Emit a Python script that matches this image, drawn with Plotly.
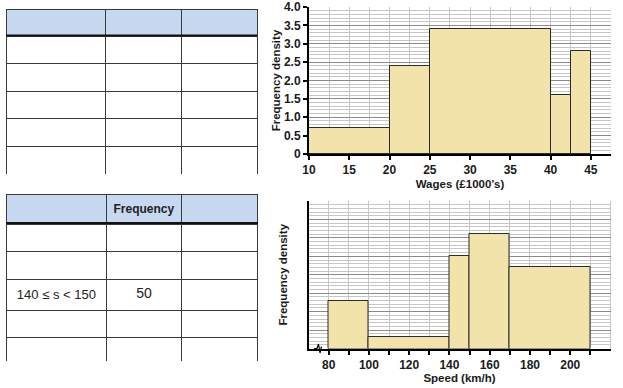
import plotly.graph_objects as go

# ---------------- data ----------------
wage_edges = [10, 20, 25, 40, 42.5, 45]
wage_fd = [0.7, 2.4, 3.4, 1.6, 2.8]
wage_ticks = [10, 15, 20, 25, 30, 35, 40, 45]
wage_yticks = [0, 0.5, 1.0, 1.5, 2.0, 2.5, 3.0, 3.5, 4.0]
wage_yticklabels = ["0", "0.5", "1.0", "1.5", "2.0", "2.5", "3.0", "3.5", "4.0"]

speed_edges = [80, 100, 140, 150, 170, 210]
speed_fd = [2.6, 0.6, 5.0, 6.2, 4.4]
speed_ticks = [80, 100, 120, 140, 160, 180, 200]
speed_minor_ticks = [90, 110, 130, 150, 170, 190, 210]

table1_header = ["", "", ""]
table1_col1 = ["", "", "", "", ""]
table1_col2 = ["", "", "", "", ""]
table1_col3 = ["", "", "", "", ""]

table2_header = ["", "<b>Frequency</b>", ""]
table2_col1 = ["", "", "140 \u2264 s < 150", "", ""]
table2_col2 = ["", "", "50", "", ""]
table2_col3 = ["", "", "", "", ""]

W, H = 623, 388
BAR_FILL = "#f1e3aa"
BAR_LINE = "#2b2b2b"
MAJ_GRID = "#8a8a8a"
MIN_GRID = "#c6c6c6"
HEAD_FILL = "#c6d9f1"
FONT = "Liberation Sans, Arial, sans-serif"


def mids_widths(edges):
    mids = [(a + b) / 2 for a, b in zip(edges[:-1], edges[1:])]
    widths = [b - a for a, b in zip(edges[:-1], edges[1:])]
    return mids, widths


def px_x(a, b):
    return [a / W, b / W]


def px_y(top, bottom):
    return [(H - bottom) / H, (H - top) / H]


fig = go.Figure()

# --- tables ---
fig.add_trace(go.Table(
    domain=dict(x=px_x(6, 257), y=px_y(9, 174.5)),
    columnwidth=[99, 76, 76],
    header=dict(values=table1_header, fill_color=HEAD_FILL, height=27,
                line=dict(color="#3a3a3a", width=1),
                font=dict(family=FONT, size=12, color="#222")),
    cells=dict(values=[table1_col1, table1_col2, table1_col3], fill_color="white",
               height=27.6, line=dict(color="#3a3a3a", width=1),
               font=dict(family=FONT, size=14, color="#222")),
))

fig.add_trace(go.Table(
    domain=dict(x=px_x(6.5, 258), y=px_y(194, 361)),
    columnwidth=[100, 75.5, 76],
    header=dict(values=table2_header, fill_color=HEAD_FILL, height=29,
                line=dict(color="#3a3a3a", width=1), align="center",
                font=dict(family=FONT, size=12, color="#222")),
    cells=dict(values=[table2_col1, table2_col2, table2_col3], fill_color="white",
               height=27.5, line=dict(color="#3a3a3a", width=1), align="center",
               font=dict(family=FONT, size=[13, 14, 13], color="#222")),
))

# --- histogram 1 ---
m1, w1 = mids_widths(wage_edges)
fig.add_trace(go.Bar(x=m1, y=wage_fd, width=w1, xaxis="x", yaxis="y",
                     marker=dict(color=BAR_FILL, line=dict(color=BAR_LINE, width=1)),
                     showlegend=False, hoverinfo="skip"))

# --- histogram 2 ---
m2, w2 = mids_widths(speed_edges)
fig.add_trace(go.Bar(x=m2, y=speed_fd, width=w2, xaxis="x2", yaxis="y2",
                     marker=dict(color=BAR_FILL, line=dict(color=BAR_LINE, width=1)),
                     showlegend=False, hoverinfo="skip"))

tickfont = dict(family=FONT, size=12, color="#1a1a1a", weight="bold")
titlefont = dict(family=FONT, size=11.5, color="#1a1a1a", weight="bold")

fig.update_layout(
    width=W, height=H,
    margin=dict(l=0, r=0, t=0, b=0),
    paper_bgcolor="white", plot_bgcolor="white",
    bargap=0, showlegend=False,
    xaxis=dict(domain=px_x(309, 611), range=[10, 47.5], anchor="y",
               tickmode="array", tickvals=wage_ticks,
               ticks="outside", ticklen=4, tickwidth=2, tickcolor="black",
               showline=True, linewidth=2, linecolor="black",
               showgrid=True, gridcolor=MIN_GRID, gridwidth=1,
               minor=dict(dtick=2.5, tick0=10, showgrid=True, gridcolor=MIN_GRID, gridwidth=1),
               zeroline=False, tickfont=tickfont, automargin=False,
               title=dict(text="Wages (\u00a31000\u2019s)", font=titlefont, standoff=4)),
    yaxis=dict(domain=px_y(7, 154), range=[0, 4], anchor="x",
               tickmode="array", tickvals=wage_yticks, ticktext=wage_yticklabels,
               ticks="outside", ticklen=4, tickwidth=2, tickcolor="black",
               showline=True, linewidth=2, linecolor="black",
               showgrid=True, gridcolor=MAJ_GRID, gridwidth=1,
               minor=dict(dtick=0.1, tick0=0, showgrid=True, gridcolor=MIN_GRID, gridwidth=1),
               zeroline=False, tickfont=tickfont, automargin=False,
               title=dict(text="Frequency density", font=titlefont, standoff=1)),
    xaxis2=dict(domain=px_x(308.5, 610.5), range=[70, 220], anchor="y2",
                tickmode="array", tickvals=speed_ticks,
                ticks="outside", ticklen=4, tickwidth=2, tickcolor="black",
                showline=True, linewidth=2, linecolor="black",
                showgrid=True, gridcolor=MIN_GRID, gridwidth=1,
                minor=dict(tickmode="array", tickvals=speed_minor_ticks,
                           showgrid=True, gridcolor=MIN_GRID, gridwidth=1,
                           ticks="outside", ticklen=4, tickwidth=2, tickcolor="black"),
                zeroline=False, tickfont=tickfont, automargin=False,
                title=dict(text="Speed (km/h)", font=titlefont, standoff=1)),
    yaxis2=dict(domain=px_y(201, 348.5), range=[0, 8], anchor="x2",
                dtick=1, tick0=0, showticklabels=False, ticks="",
                showline=True, linewidth=2, linecolor="black",
                showgrid=True, gridcolor=MAJ_GRID, gridwidth=1,
                minor=dict(dtick=0.2, tick0=0, showgrid=True, gridcolor=MIN_GRID, gridwidth=1),
                zeroline=False, automargin=False,
                title=dict(text="Frequency density", font=titlefont, standoff=16)),
)

# right-hand light border of the speed grid
fig.add_shape(type="line", xref="x2 domain", yref="y2 domain", x0=1, x1=1, y0=0, y1=1,
              line=dict(color=MIN_GRID, width=1), layer="below")

# thick rule under table headers
for x0, x1, y in [(6, 257, 35.5), (6.5, 258, 223)]:
    fig.add_shape(type="line", xref="paper", yref="paper",
                  x0=x0 / W, x1=x1 / W, y0=(H - y) / H, y1=(H - y) / H,
                  line=dict(color="#111", width=2))

# axis break zigzag on speed axis (decoration, in page pixels)
zz = [(314, 348.5), (317, 348.5), (318.5, 344), (320, 353), (321.5, 346.5)]
path = "M " + " L ".join(f"{x / W:.5f} {(H - y) / H:.5f}" for x, y in zz)
fig.add_shape(type="path", xref="paper", yref="paper", path=path,
              line=dict(color="black", width=1.2))

fig.write_html("out.html", config={"displayModeBar": False},
               post_script="document.body.style.margin='0';document.body.style.padding='0';")
